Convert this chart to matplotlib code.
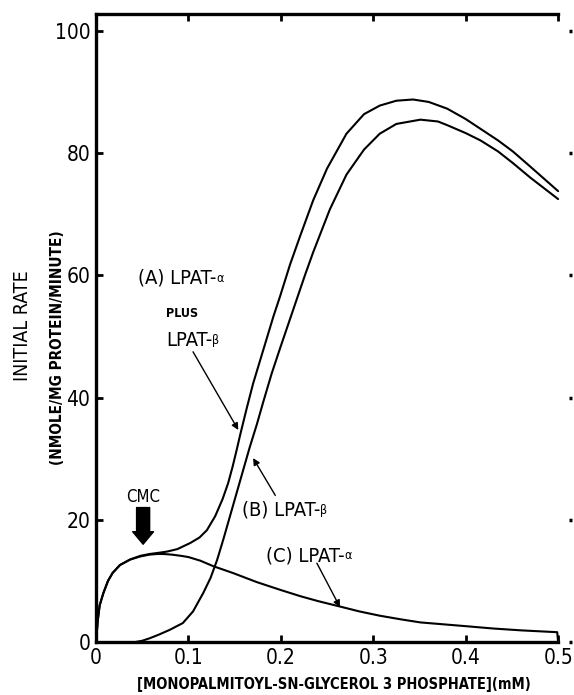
import numpy as np
import matplotlib
matplotlib.use("Agg")
import matplotlib.pyplot as plt

plt.rcParams['font.family'] = ['DejaVu Sans']
plt.rcParams['font.stretch'] = 'condensed'

# curve (A) LPAT-alpha plus LPAT-beta
a_x = [0, 0.002, 0.004, 0.008, 0.013, 0.018, 0.026, 0.037, 0.048, 0.058, 0.068,
       0.077, 0.088, 0.102, 0.112, 0.120, 0.129, 0.137, 0.143, 0.148, 0.152,
       0.156, 0.163, 0.170, 0.178, 0.185, 0.192, 0.199, 0.210, 0.221, 0.235,
       0.250, 0.271, 0.290, 0.307, 0.325, 0.343, 0.360, 0.380, 0.400, 0.416,
       0.435, 0.451, 0.470, 0.500]
a_y = [0, 3.6, 6.0, 8.0, 10.0, 11.3, 12.6, 13.5, 14.1, 14.4, 14.6,
       14.8, 15.2, 16.2, 17.1, 18.3, 20.6, 23.4, 26.0, 28.8, 31.3,
       33.9, 38.2, 42.3, 46.3, 49.8, 53.3, 56.5, 61.8, 66.5, 72.3,
       77.5, 83.2, 86.4, 87.8, 88.6, 88.8, 88.4, 87.3, 85.6, 84.0,
       82.1, 80.3, 77.8, 73.8]

# curve (B) LPAT-beta
b_x = [0.043, 0.050, 0.058, 0.068, 0.080, 0.094, 0.105, 0.116, 0.124, 0.131,
       0.138, 0.145, 0.152, 0.159, 0.166, 0.174, 0.181, 0.190, 0.199, 0.208,
       0.217, 0.226, 0.235, 0.253, 0.271, 0.290, 0.307, 0.325, 0.351, 0.370,
       0.380, 0.400, 0.416, 0.435, 0.451, 0.470, 0.500]
b_y = [0, 0.2, 0.6, 1.2, 2.0, 3.1, 5.0, 8.0, 10.5, 13.4,
       16.9, 20.6, 24.3, 28.0, 31.7, 35.6, 39.3, 43.9, 48.0, 52.0,
       56.0, 60.0, 63.8, 70.8, 76.5, 80.6, 83.2, 84.8, 85.5, 85.2,
       84.6, 83.3, 82.1, 80.3, 78.4, 76.0, 72.5]

# curve (C) LPAT-alpha
c_x = [0, 0.002, 0.004, 0.008, 0.013, 0.018, 0.026, 0.037, 0.048, 0.058, 0.066,
       0.073, 0.082, 0.092, 0.100, 0.113, 0.127, 0.148, 0.174, 0.200, 0.221,
       0.240, 0.264, 0.285, 0.307, 0.330, 0.351, 0.375, 0.399, 0.430, 0.460,
       0.499, 0.500]
c_y = [0, 3.6, 6.0, 8.0, 10.0, 11.3, 12.6, 13.5, 14.0, 14.3, 14.4,
       14.4, 14.3, 14.1, 13.9, 13.3, 12.4, 11.3, 9.8, 8.5, 7.5,
       6.7, 5.8, 5.0, 4.3, 3.7, 3.2, 2.9, 2.6, 2.2, 1.9,
       1.6, 0]

x_ticks = [0, 0.1, 0.2, 0.3, 0.4, 0.5]
x_labels = ["0", "0.1", "0.2", "0.3", "0.4", "0.5"]
y_ticks = [0, 20, 40, 60, 80, 100]
y_labels = ["0", "20", "40", "60", "80", "100"]

fig = plt.figure(figsize=(5.74, 6.95), dpi=100)
ax = fig.add_axes([0.1672, 0.0763, 0.8293, 0.9036])

lw = 1.5
ax.plot(a_x, a_y, color="black", lw=lw, solid_capstyle="round")
ax.plot(b_x, b_y, color="black", lw=lw, solid_capstyle="round")
ax.plot(c_x, c_y, color="black", lw=lw, solid_capstyle="round")

ax.set_xlim(0, 0.515)
ax.set_ylim(0, 102.8)

for s in ["left", "bottom", "top"]:
    ax.spines[s].set_linewidth(2.4)
ax.spines["right"].set_visible(False)
ax.spines["top"].set_bounds(0, 0.5)
ax.spines["bottom"].set_bounds(0, 0.5)

ax.set_xticks(x_ticks)
ax.set_xticklabels(x_labels)
ax.set_yticks(y_ticks)
ax.set_yticklabels(y_labels)
ax.tick_params(axis="both", direction="in", length=5, width=2, labelsize=15,
               top=True, right=True, pad=4)
for t in ax.yaxis.get_major_ticks():
    t.tick2line.set_markersize(2)
    t.tick2line.set_markeredgewidth(2.5)

ax.set_xlabel("[MONOPALMITOYL-SN-GLYCEROL 3 PHOSPHATE](mM)", fontsize=10.5,
              fontweight="bold", labelpad=7)

fig.text(0.040, 0.532, "INITIAL RATE", rotation=90, ha="center", va="center",
         fontsize=14)
fig.text(0.100, 0.50, "(NMOLE/MG PROTEIN/MINUTE)", rotation=90, ha="center",
         va="center", fontsize=11, fontweight="bold")

fs = 14.5


def label(x, y, main, greek):
    t = ax.text(x, y, main, fontsize=fs, ha="left", va="center")
    ax.annotate(greek, xy=(1, 0.15), xycoords=t, fontsize=9, ha="left", va="bottom")
    return t


label(0.045, 59.6, "(A) LPAT-", "α")
ax.text(0.076, 53.8, "PLUS", fontsize=9, ha="left", va="center", fontweight="bold")
label(0.076, 49.3, "LPAT-", "β")
label(0.158, 21.6, "(B) LPAT-", "β")
label(0.184, 14.1, "(C) LPAT-", "α")

arr = dict(arrowstyle="-|>", color="black", lw=1.0, mutation_scale=10,
           shrinkA=0, shrinkB=0)
ax.annotate("", xy=(0.154, 34.7), xytext=(0.105, 47.5), arrowprops=arr)
ax.annotate("", xy=(0.170, 30.1), xytext=(0.194, 24.0), arrowprops=arr)
ax.annotate("", xy=(0.264, 5.7), xytext=(0.239, 12.9), arrowprops=arr)

# CMC marker
ax.text(0.051, 23.8, "CMC", fontsize=12, ha="center", va="center")
ax.annotate("", xy=(0.051, 16.0), xytext=(0.051, 22.0),
            arrowprops=dict(arrowstyle="simple,head_length=0.45,head_width=0.75,tail_width=0.47",
                            color="black", mutation_scale=20, shrinkA=0, shrinkB=0))

fig.savefig("out.png", dpi=100)
